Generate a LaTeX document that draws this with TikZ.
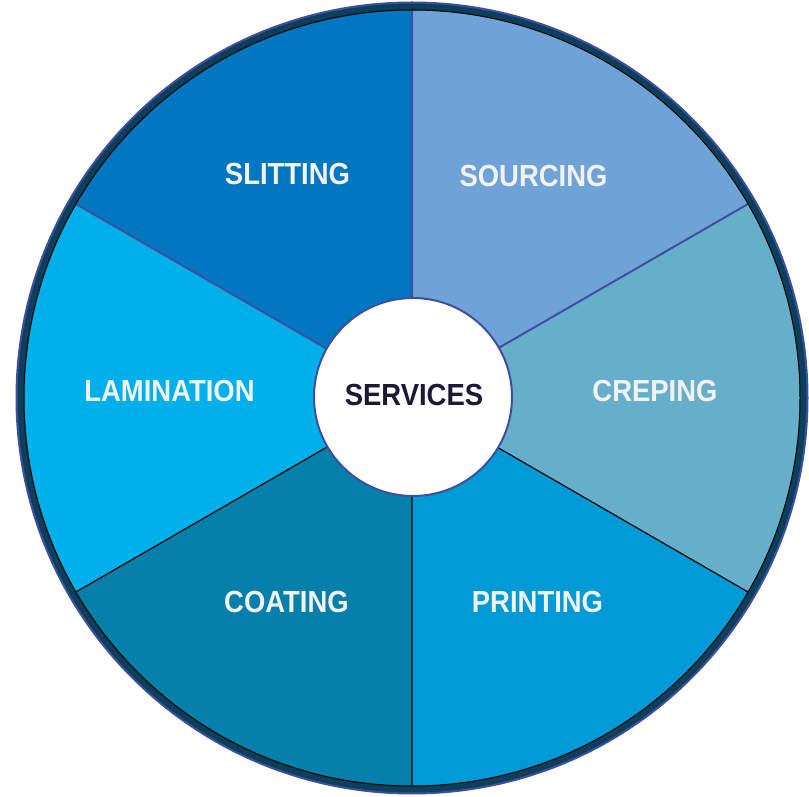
\documentclass[tikz,border=0pt]{standalone}
\usepackage{fontspec}
\setmainfont{Liberation Sans}
\usetikzlibrary{calc}
\definecolor{cslit}{HTML}{0177C1}
\definecolor{csour}{HTML}{6FA3D8}
\definecolor{ccrep}{HTML}{66AFCB}
\definecolor{cprin}{HTML}{009AD6}
\definecolor{ccoat}{HTML}{0480AB}
\definecolor{clami}{HTML}{00B0EA}
\definecolor{ringdark}{HTML}{0B3F5C}
\definecolor{ringblue}{HTML}{3F4FA0}
\definecolor{labelwhite}{HTML}{F2F2F2}
\definecolor{centertext}{HTML}{1C1836}
\newcommand{\narrowtxt}[1]{\scalebox{0.9}[1]{#1}}
\begin{document}
\begin{tikzpicture}[x=1pt,y=1pt,
  lbl/.style={font=\fontsize{30.5}{32}\selectfont\bfseries, text=labelwhite, inner sep=0pt},
  hub/.style={circle, fill=white, draw=ringblue, line width=2pt, minimum size=198pt, inner sep=0pt,
    font=\fontsize{30.5}{32}\selectfont\bfseries, text=centertext},
  updiv/.style={draw=ringblue, line width=2pt},
  lowdiv/.style={draw=black, line width=1.2pt}]
\useasboundingbox (0,0) rectangle (809,796);
\coordinate (c) at (412,398);
\def\R{388}
% sectors
\fill[csour] (c) -- ++(30:\R) arc[start angle=30, end angle=90, radius=\R] -- cycle;
\fill[cslit] (c) -- ++(90:\R) arc[start angle=90, end angle=150, radius=\R] -- cycle;
\fill[clami] (c) -- ++(150:\R) arc[start angle=150, end angle=210, radius=\R] -- cycle;
\fill[ccoat] (c) -- ++(210:\R) arc[start angle=210, end angle=270, radius=\R] -- cycle;
\fill[cprin] (c) -- ++(270:\R) arc[start angle=270, end angle=330, radius=\R] -- cycle;
\fill[ccrep] (c) -- ++(330:\R) arc[start angle=330, end angle=390, radius=\R] -- cycle;
% dividers
\coordinate (d90) at ($(c)+(90:\R)$);
\coordinate (d30) at ($(c)+(30:\R)$);
\coordinate (d150) at ($(c)+(150:\R)$);
\coordinate (d210) at ($(c)+(210:\R)$);
\coordinate (d270) at ($(c)+(270:\R)$);
\coordinate (d330) at ($(c)+(330:\R)$);
\path[updiv] (c) -- (d90) (c) -- (d30) (c) -- (d150);
\path[lowdiv] (c) -- (d210) (c) -- (d270) (c) -- (d330);
% outer ring
\draw[ringdark, line width=7pt] (c) circle[radius=391.5];
\draw[ringblue, line width=2pt] (c) circle[radius=395.5];
\draw[black, line width=1pt] (c) circle[radius=388];
% hub
\node[hub] (services) at (413,399) {};
\node[font=\fontsize{30.5}{32}\selectfont\bfseries, text=centertext, inner sep=0pt] (servicestxt) at (414,401) {\narrowtxt{SERVICES}};
% labels
\node[lbl] (slitting) at (287.5,622) {\narrowtxt{SLITTING}};
\node[lbl] (sourcing) at (533.5,620) {\narrowtxt{SOURCING}};
\node[lbl] (lamination) at (169.5,405) {\narrowtxt{LAMINATION}};
\node[lbl] (creping) at (655,405) {\narrowtxt{CREPING}};
\node[lbl] (coating) at (286.5,194) {\narrowtxt{COATING}};
\node[lbl] (printing) at (537.5,194) {\narrowtxt{PRINTING}};
\end{tikzpicture}
\end{document}
